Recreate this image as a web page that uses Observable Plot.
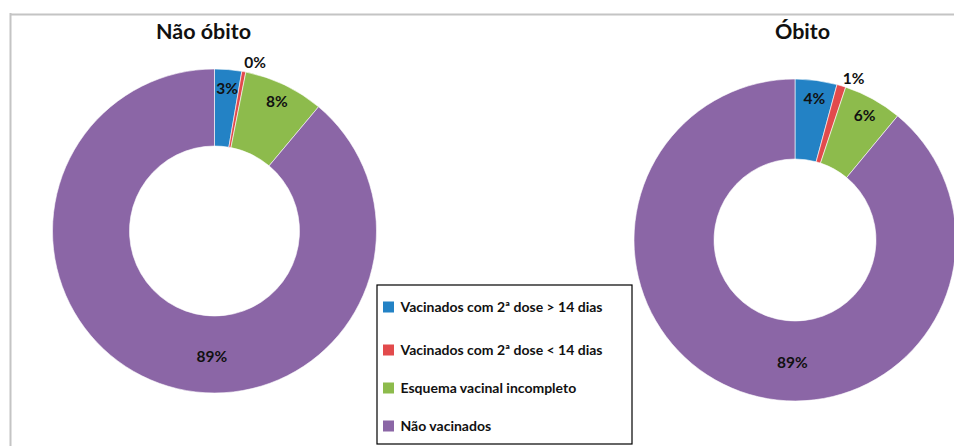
<!DOCTYPE html>
<html>
<head>
<meta charset="utf-8">
<script src="https://cdn.jsdelivr.net/npm/d3@7"></script>
<script src="https://cdn.jsdelivr.net/npm/@observablehq/plot@0.6"></script>
<style>
  html, body { margin: 0; padding: 0; background: #fff; }
  #chart { width: 954px; height: 446px; overflow: hidden; }
</style>
</head>
<body>
<div id="chart"></div>
<script>
// ---- data ----
const categories = [
  "Vacinados com 2ª dose > 14 dias",
  "Vacinados com 2ª dose < 14 dias",
  "Esquema vacinal incompleto",
  "Não vacinados"
];
const colors = ["#2382c5", "#e24a4c", "#8dbb4c", "#8b66a6"];
const chartTitles = ["Não óbito", "Óbito"];
const naoObitoValues = [2.7, 0.4, 8.0, 88.9];
const obitoValues = [4.2, 0.9, 5.9, 89.0];

// ---- layout (positions / sizes only) ----
const W = 954, H = 446;
const donuts = [
  {title: chartTitles[0], values: naoObitoValues, cx: 214.5, cy: 231, R: 162, r: 85, titleX: 203, titleY: 32},
  {title: chartTitles[1], values: obitoValues, cx: 795, cy: 240, R: 161, r: 81, titleX: 802, titleY: 32}
];
// label placement per slice: "in" = near outer edge inside, "out" = outside end, "ring" = middle of ring at bottom
const labelKinds = ["in", "out", "in", "ring"];
const legendBox = {x1: 377, x2: 632, y1: 285, y2: 444};
const legendRowsY = [307, 350, 388, 426];

// ---- derived rows ----
const pie = d3.pie().sort(null).value(d => d);
const sliceRows = [];
const labelRows = [];
donuts.forEach((c, ci) => {
  const arcs = pie(c.values);
  arcs.forEach((a, i) => {
    sliceRows.push({chart: ci, cat: categories[i], a0: a.startAngle, a1: a.endAngle});
    const mid = (a.startAngle + a.endAngle) / 2;
    let ang = mid, rad;
    const kind = labelKinds[i];
    if (kind === "in") rad = c.R * 0.885;
    else if (kind === "out") { rad = c.R + 11; ang = mid + 3 * Math.PI / 180; }
    else { rad = (c.R + c.r) / 2 + 2; ang = Math.PI * 1.008; }
    labelRows.push({
      x: c.cx + rad * Math.sin(ang),
      y: c.cy - rad * Math.cos(ang),
      text: Math.round(c.values[i]) + "%"
    });
  });
});
const legendRows = categories.map((cat, i) => ({cat, y: legendRowsY[i]}));

// custom donut mark drawn through Plot's scales
function donutMark(index, scales) {
  const g = d3.create("svg:g");
  const colorOf = scales.color || (cat => colors[categories.indexOf(cat)]);
  donuts.forEach((c, ci) => {
    const arc = d3.arc().innerRadius(c.r).outerRadius(c.R);
    const cg = g.append("g")
      .attr("transform", `translate(${scales.x(c.cx)},${scales.y(c.cy)})`);
    sliceRows.filter(s => s.chart === ci).forEach(s => {
      cg.append("path")
        .attr("d", arc({startAngle: s.a0, endAngle: s.a1}))
        .attr("fill", colorOf(s.cat))
        .attr("stroke", "#ffffff")
        .attr("stroke-width", 0.6);
    });
  });
  return g.node();
}

const plot = Plot.plot({
  width: W,
  height: H,
  margin: 0,
  x: {domain: [0, W], range: [0, W], axis: null},
  y: {domain: [0, H], range: [0, H], axis: null},
  color: {domain: categories, range: colors},
  style: {fontFamily: "Lato, 'Open Sans', sans-serif", background: "#fff", overflow: "hidden"},
  marks: [
    // outer frame (top and left borders)
    Plot.ruleY([14], {x1: 10, x2: W, stroke: "#c4c4c4", strokeWidth: 2}),
    Plot.ruleX([10], {y1: 13, y2: H, stroke: "#c4c4c4", strokeWidth: 2}),
    donutMark,
    // titles
    Plot.text(donuts, {x: "titleX", y: "titleY", text: "title", fontSize: 21.5, fontWeight: "bold", fill: "#111"}),
    // data labels
    Plot.text(labelRows, {x: "x", y: "y", text: "text", fontSize: 15.5, fontWeight: "bold", fill: "#111"}),
    // legend
    Plot.rect([legendBox], {x1: "x1", x2: "x2", y1: "y1", y2: "y2", fill: "#fff", stroke: "#000", strokeWidth: 1.2}),
    Plot.rect(legendRows, {x1: 383, x2: 394, y1: d => d.y - 5.5, y2: d => d.y + 5.5, fill: "cat"}),
    Plot.text(legendRows, {x: 400, y: "y", text: "cat", textAnchor: "start", fontSize: 14, fontWeight: "bold", fill: "#111"})
  ]
});
document.getElementById("chart").appendChild(plot);
</script>
</body>
</html>
